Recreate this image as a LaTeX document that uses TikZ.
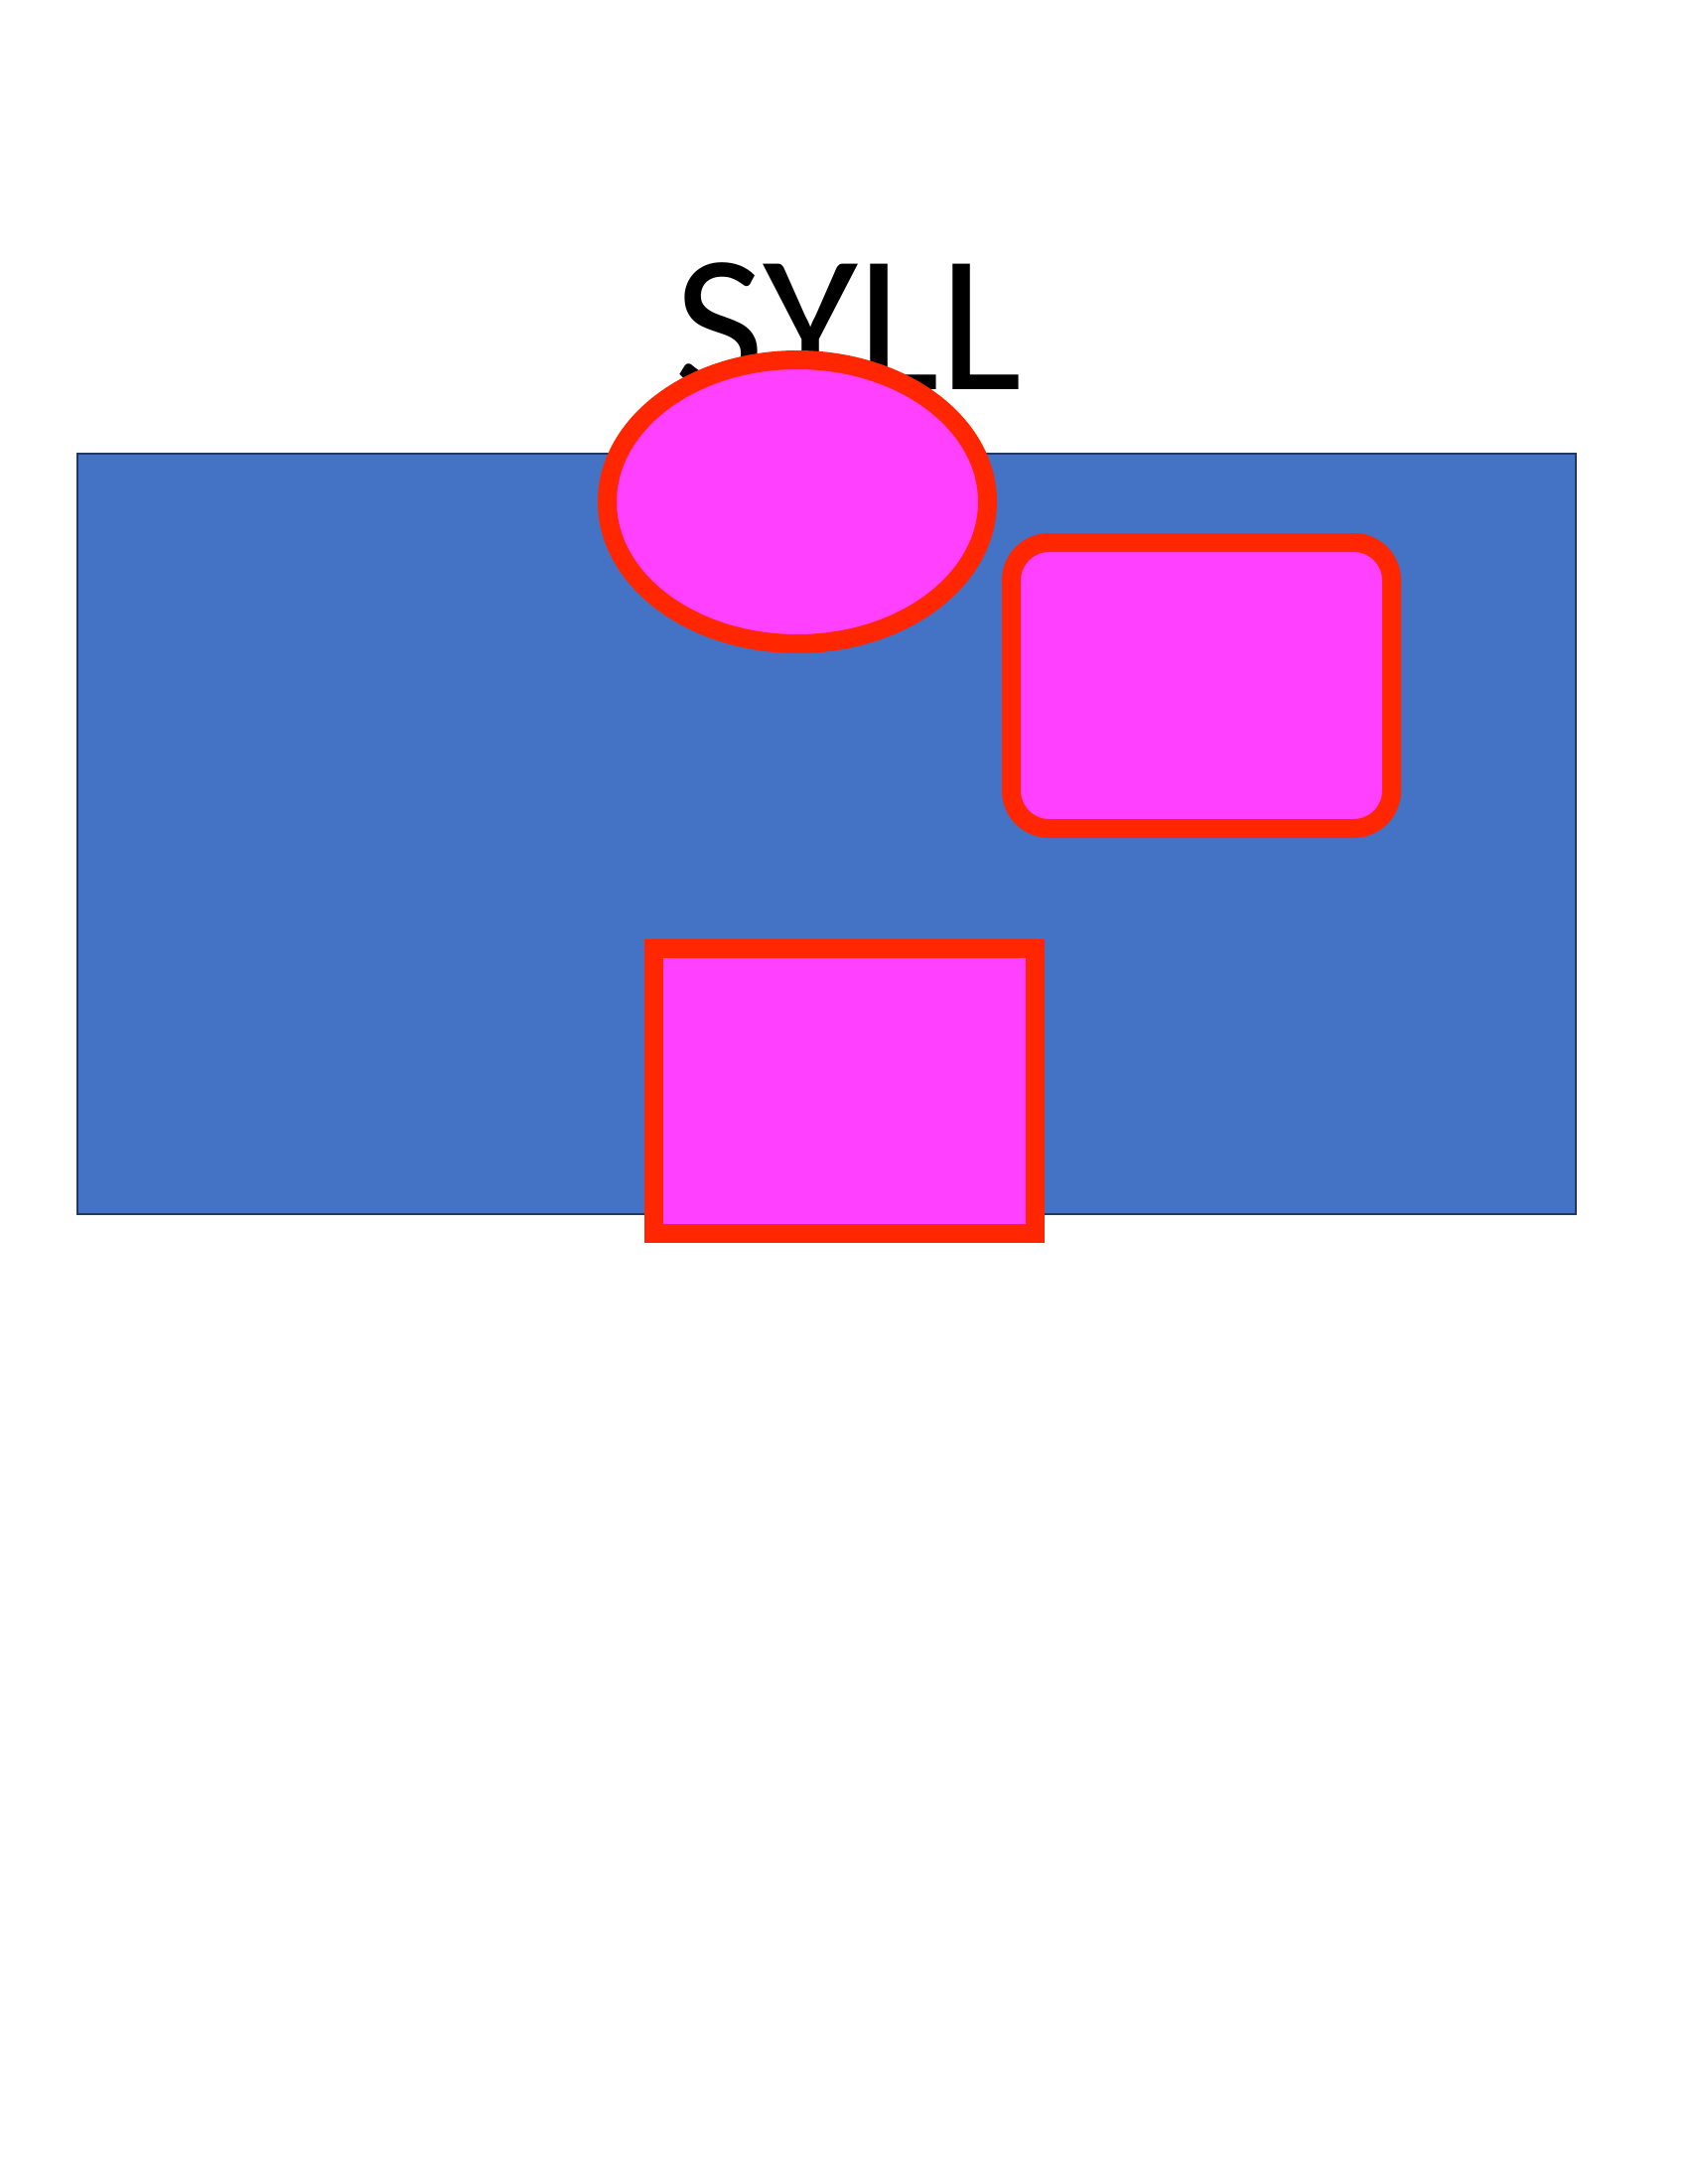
\documentclass[tikz,border=0pt]{standalone}
\usepackage{fontspec}
\setmainfont{Carlito}
\usetikzlibrary{shapes.geometric}
\definecolor{bgblue}{HTML}{4472C4}
\definecolor{navy}{HTML}{1F3864}
\definecolor{pinkfill}{HTML}{FF40FF}
\definecolor{redline}{HTML}{FF2600}
\tikzset{
  panel/.style={draw=navy, fill=bgblue, line width=2pt, rectangle, inner sep=0pt},
  pinkshape/.style={draw=redline, fill=pinkfill, line width=19pt, inner sep=0pt},
}
\begin{document}
\begin{tikzpicture}[x=1pt,y=-1pt]
\useasboundingbox (0,0) rectangle (1700,2200);
\fill[white] (0,0) rectangle (1700,2200);
\node[panel, minimum width=1509pt, minimum height=766pt] (panel) at (832.5,840) {};
\node[anchor=base, inner sep=0pt, font=\fontsize{197}{236}\selectfont] (title) at (854.5,392) {SYLL};
\node[pinkshape, ellipse, minimum width=383pt, minimum height=286pt] (oval) at (803,505.5) {};
\node[pinkshape, rectangle, rounded corners=38pt, minimum width=383pt, minimum height=288pt] (rbox) at (1210,690.5) {};
\node[pinkshape, rectangle, minimum width=384pt, minimum height=287pt] (sbox) at (850.5,1099) {};
\end{tikzpicture}
\end{document}
